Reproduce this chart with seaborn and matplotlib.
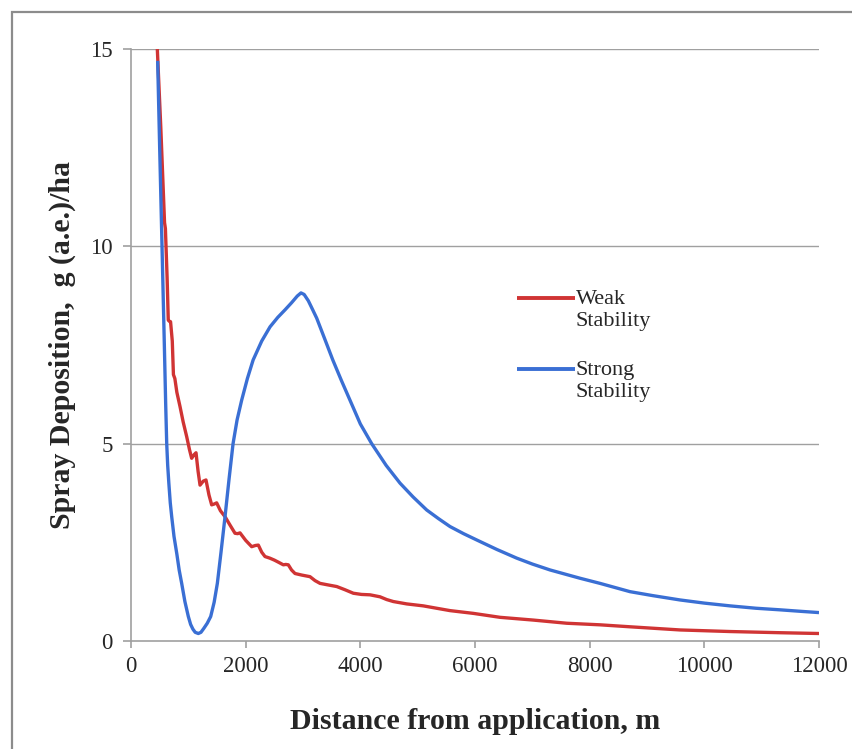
import matplotlib
matplotlib.use("Agg")
import matplotlib.pyplot as plt
import seaborn as sns
import pandas as pd
from matplotlib.patches import Rectangle

# ---- data ----
weak_x = [459, 520, 585, 600, 630, 650, 670, 690, 720, 740, 765, 800, 855, 910, 971,
          1020, 1058, 1100, 1134, 1170, 1204, 1260, 1308, 1360, 1407, 1450, 1494,
          1560, 1640, 1730, 1814, 1860, 1901, 2000, 2105, 2170, 2221, 2280, 2337,
          2420, 2500, 2580, 2657, 2700, 2744, 2800, 2861, 2980, 3122, 3210, 3297,
          3440, 3588, 3730, 3878, 4020, 4169, 4343, 4460, 4575, 4808, 5099, 5330,
          5564, 5971, 6436, 7018, 7600, 8181, 8704, 9576, 10448, 11320, 12000]
weak_y = [15.0, 13.0, 10.6, 10.45, 9.2, 8.13, 8.1, 8.09, 7.6, 6.75, 6.65, 6.3, 5.94,
          5.55, 5.18, 4.85, 4.63, 4.72, 4.77, 4.3, 3.95, 4.05, 4.08, 3.7, 3.45, 3.47,
          3.5, 3.3, 3.15, 2.93, 2.73, 2.72, 2.74, 2.55, 2.39, 2.42, 2.43, 2.25, 2.14,
          2.1, 2.05, 1.99, 1.93, 1.94, 1.93, 1.8, 1.71, 1.67, 1.63, 1.53, 1.46,
          1.42, 1.38, 1.3, 1.21, 1.18, 1.17, 1.12, 1.05, 1.0, 0.94, 0.89, 0.83,
          0.77, 0.70, 0.60, 0.53, 0.45, 0.41, 0.36, 0.28, 0.24, 0.21, 0.19]

strong_x = [465, 500, 541, 580, 605, 623, 640, 660, 685, 710, 750, 800, 840, 884, 940,
            1000, 1040, 1080, 1120, 1174, 1220, 1270, 1330, 1390, 1450, 1506, 1570,
            1640, 1710, 1780, 1850, 1930, 2030, 2130, 2280, 2425, 2560, 2686, 2800,
            2900, 2965, 3020, 3093, 3160, 3239, 3380, 3520, 3670, 3820, 4000, 4198,
            4450, 4692, 4920, 5157, 5364, 5564, 5800, 6030, 6380, 6727, 7000, 7309,
            7832, 8181, 8704, 9100, 9576, 10000, 10448, 10900, 11320, 11700, 12000]
strong_y = [14.7, 12.5, 10.0, 7.6, 6.0, 5.0, 4.45, 4.0, 3.5, 3.15, 2.65, 2.2, 1.8,
            1.46, 1.0, 0.62, 0.42, 0.3, 0.22, 0.19, 0.22, 0.32, 0.45, 0.62, 0.98,
            1.46, 2.25, 3.15, 4.1, 5.0, 5.6, 6.1, 6.65, 7.12, 7.6, 7.96, 8.2, 8.39,
            8.57, 8.74, 8.82, 8.78, 8.62, 8.42, 8.18, 7.65, 7.12, 6.6, 6.1, 5.5, 5.0,
            4.45, 4.0, 3.65, 3.32, 3.1, 2.9, 2.72, 2.56, 2.32, 2.1, 1.95, 1.8,
            1.59, 1.46, 1.25, 1.15, 1.04, 0.96, 0.89, 0.83, 0.79, 0.75, 0.72]

series_labels = ["Weak\nStability", "Strong\nStability"]
x_ticks = [0, 2000, 4000, 6000, 8000, 10000, 12000]
y_ticks = [0, 5, 10, 15]
x_label = "Distance from application, m"
y_label = "Spray Deposition,  g (a.e.)/ha"

RED = "#D03434"
BLUE = "#3A6FD4"

sns.set_theme(style="white")
plt.rcParams["font.family"] = ["Liberation Serif", "DejaVu Serif"]

fig = plt.figure(figsize=(8.53, 7.49), dpi=100)
ax = fig.add_axes([131 / 853, 1 - 641 / 749, (819 - 131) / 853, (641 - 49) / 749])

df_w = pd.DataFrame({"x": weak_x, "y": weak_y})
df_s = pd.DataFrame({"x": strong_x, "y": strong_y})
sns.lineplot(data=df_w, x="x", y="y", ax=ax, color=RED, lw=2.4, estimator=None,
             label=series_labels[0], solid_joinstyle="round", solid_capstyle="butt")
sns.lineplot(data=df_s, x="x", y="y", ax=ax, color=BLUE, lw=2.4, estimator=None,
             label=series_labels[1], solid_joinstyle="round", solid_capstyle="butt")

ax.set_xlim(0, 12000)
ax.set_ylim(0, 15)
ax.set_xticks(x_ticks)
ax.set_yticks(y_ticks)
ax.set_xticklabels([str(t) for t in x_ticks])
ax.set_yticklabels([str(t) for t in y_ticks])

ax.grid(False)
for yv in y_ticks[1:]:
    ax.axhline(yv, color="#A0A0A0", lw=1.0, zorder=0)

for s in ["top", "right"]:
    ax.spines[s].set_visible(False)
for s in ["left", "bottom"]:
    ax.spines[s].set_color("#A0A0A0")
    ax.spines[s].set_linewidth(1.2)

ax.tick_params(axis="x", which="major", direction="out", length=5, width=1.2,
               color="#A0A0A0", labelsize=16.5, pad=6, bottom=True)
ax.tick_params(axis="y", which="major", direction="out", length=6, width=1.2,
               color="#A0A0A0", labelsize=16.5, pad=7, left=True)

ax.set_xlabel(x_label, fontsize=21.5, fontweight="bold", labelpad=22)
ax.set_ylabel(y_label, fontsize=21.5, fontweight="bold", labelpad=10)

leg = ax.legend(loc="upper left", bbox_to_anchor=((517 - 131) / 688, (641 - 290) / 592),
                frameon=False, fontsize=16, handlelength=2.6, handletextpad=0.05,
                borderpad=0, borderaxespad=0, labelspacing=1.36)
for ln in leg.get_lines():
    yd = ln.get_ydata()
    ln.set_ydata([v + 8.3 for v in yd])
    ln.set_linewidth(2.8)

# Frame around the whole chart area
fig.patches.append(Rectangle((12 / 853, -0.1), 1.2, 1.1 - 12 / 749,
                             transform=fig.transFigure, fill=False,
                             edgecolor="#8C8C8C", lw=1.6))

fig.savefig("out.png", dpi=100)
